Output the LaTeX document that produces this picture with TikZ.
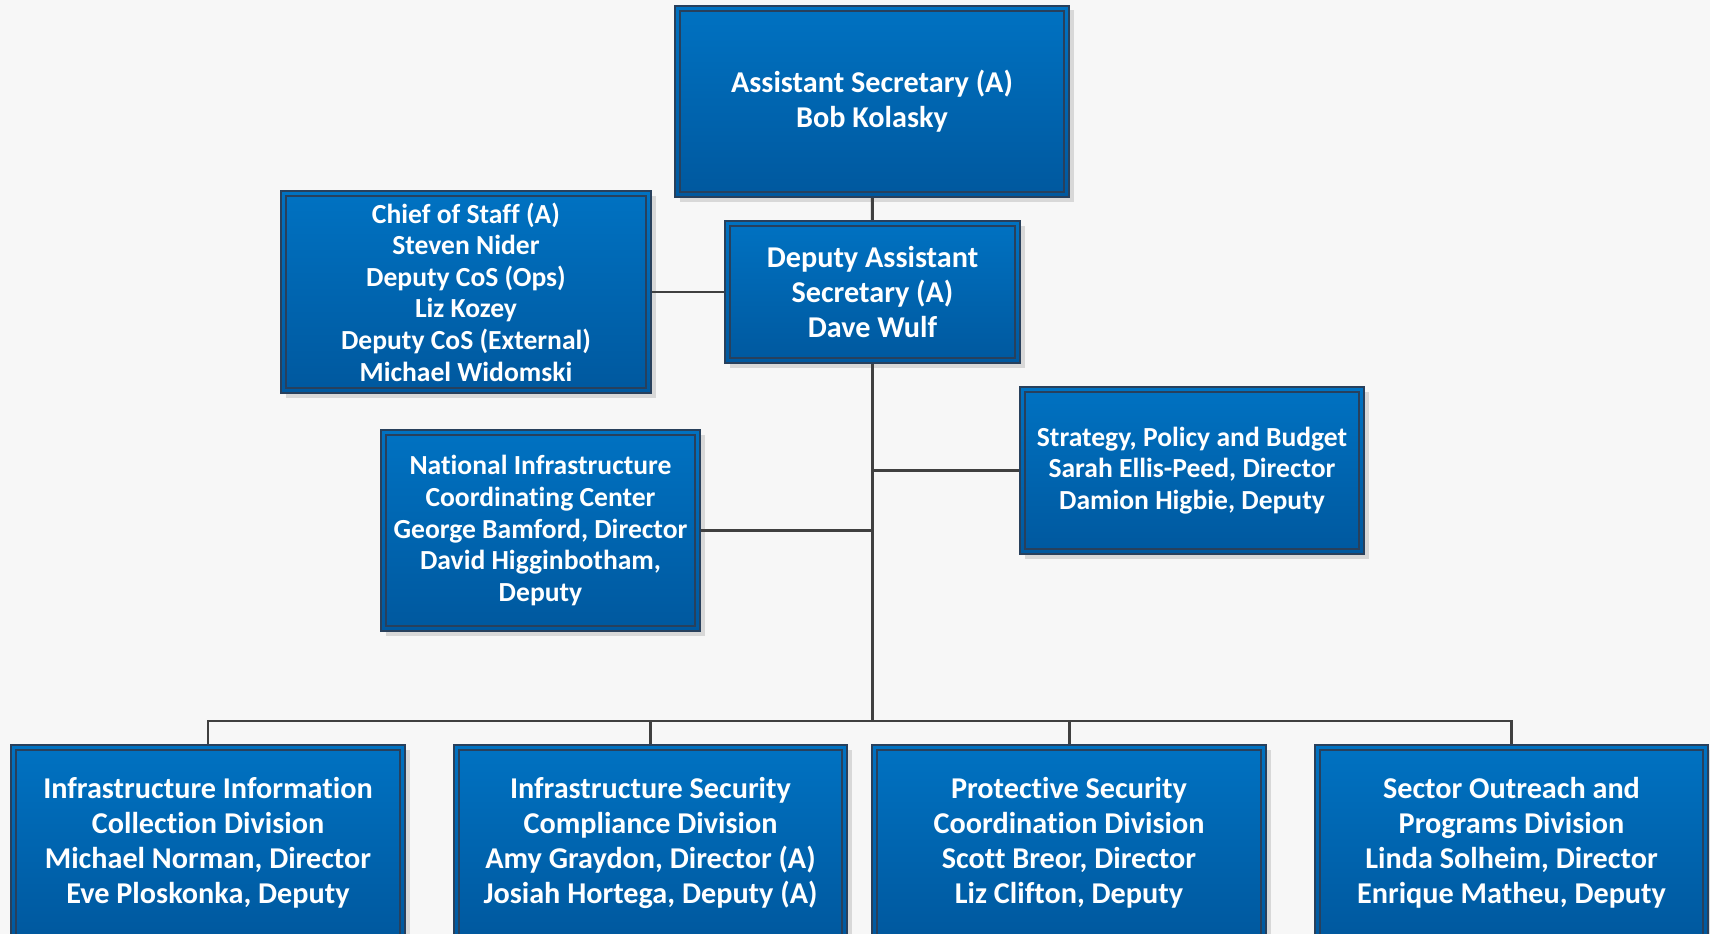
\documentclass[tikz,border=0pt]{standalone}
\usepackage{fontspec}
\setmainfont{Carlito}[Ligatures=NoCommon]
\usetikzlibrary{calc, shadows}
\definecolor{pagebg}{RGB}{247,247,247}
\definecolor{boxtop}{RGB}{0,114,194}
\definecolor{boxbot}{RGB}{0,88,158}
\definecolor{boxline}{RGB}{40,64,92}
\definecolor{linkgray}{RGB}{64,64,64}

\begin{document}
\begin{tikzpicture}[
    unit/.style={rectangle, draw=boxline, line width=1.3pt,
      top color=boxtop, bottom color=boxbot, text=white, align=center,
      inner sep=0pt, font=\bfseries\fontsize{17.2}{19.9}\selectfont,
      drop shadow={shadow xshift=0.09cm, shadow yshift=-0.09cm, fill=black, opacity=0.12},
      path picture={\draw[boxline, line width=0.8pt]
        ([shift={(0.1cm,-0.1cm)}]path picture bounding box.north west) rectangle
        ([shift={(-0.1cm,0.1cm)}]path picture bounding box.south east);}},
    staff/.style={unit, font=\bfseries\fontsize{15.7}{18}\selectfont},
    link/.style={draw=linkgray, line width=1.7pt}]
    \useasboundingbox (0,0) rectangle (34.2,-18.68);
    \fill[pagebg] (0,0) rectangle (34.2,-18.68);
    % front office
    \node[unit, minimum width=7.88cm, minimum height=3.82cm] (asec) at (17.44,-2.03)
      {Assistant Secretary (A)\\Bob Kolasky};
    \node[unit, minimum width=5.9cm, minimum height=2.84cm] (dasec) at (17.45,-5.84)
      {Deputy Assistant\\Secretary (A)\\Dave Wulf};
    \node[staff, minimum width=7.4cm, minimum height=4.04cm] (cos) at (9.32,-5.84)
      {Chief of Staff (A)\\Steven Nider\\Deputy CoS (Ops)\\Liz Kozey\\Deputy CoS (External)\\Michael Widomski};
    \node[staff, minimum width=6.88cm, minimum height=3.34cm] (spb) at (23.84,-9.41)
      {Strategy, Policy and Budget\\Sarah Ellis-Peed, Director\\Damion Higbie, Deputy};
    \node[staff, minimum width=6.38cm, minimum height=4.02cm] (nicc) at (10.81,-10.61)
      {National Infrastructure\\Coordinating Center\\George Bamford, Director\\David Higginbotham,\\Deputy};
    % divisions
    \node[unit, minimum width=7.88cm, minimum height=3.9cm] (iicd) at (4.16,-16.85)
      {Infrastructure Information\\Collection Division\\Michael Norman, Director\\Eve Ploskonka, Deputy};
    \node[unit, minimum width=7.86cm, minimum height=3.9cm] (iscd) at (13.01,-16.85)
      {Infrastructure Security\\Compliance Division\\Amy Graydon, Director (A)\\Josiah Hortega, Deputy (A)};
    \node[unit, minimum width=7.88cm, minimum height=3.9cm] (pscd) at (21.38,-16.85)
      {Protective Security\\Coordination Division\\Scott Breor, Director\\Liz Clifton, Deputy};
    \node[unit, minimum width=7.86cm, minimum height=3.9cm] (sopd) at (30.23,-16.85)
      {Sector Outreach and\\Programs Division\\Linda Solheim, Director\\Enrique Matheu, Deputy};
    \coordinate (bus) at (17.45,-14.42);
    \draw[link] (asec) -- (dasec);
    \draw[link] (cos) -- (dasec);
    \draw[link] (dasec) -- (bus);
    \draw[link] (spb) -- (spb -| dasec);
    \draw[link] (nicc) -- (nicc -| dasec);
    \draw[link] (iicd) |- (bus) -| (sopd);
    \draw[link] (iscd) -- (iscd |- bus);
    \draw[link] (pscd) -- (pscd |- bus);
\end{tikzpicture}
\end{document}
